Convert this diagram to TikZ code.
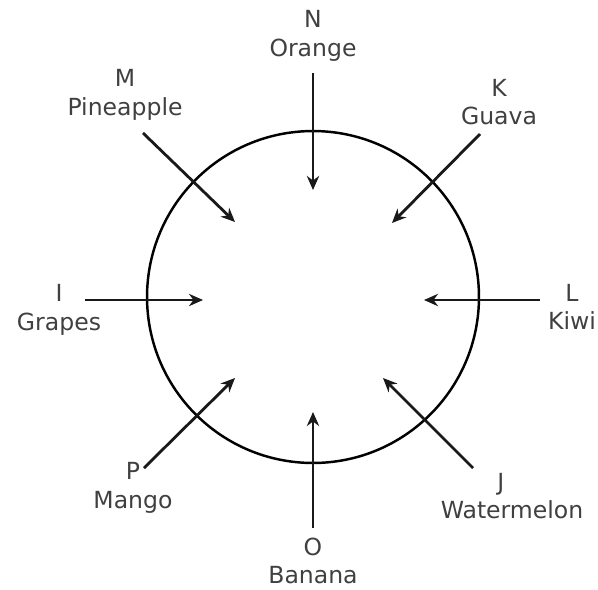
\documentclass[tikz,border=0pt]{standalone}
\usepackage{fontspec}
\setmainfont{DejaVu Sans}
\usetikzlibrary{arrows.meta}

\begin{document}
\begin{tikzpicture}[
		x=0.02cm, y=-0.02cm,
		fruit/.style={align=center, inner sep=0pt, text=black!75, font=\fontsize{13.4}{16.2}\selectfont},
		arrow/.style={-{Stealth[length=8pt, width=7pt]}, line width=1.6pt, draw=black!90}
	]
	\useasboundingbox (0,0) rectangle (598,589);

	% Nodes
	\node[draw, circle, line width=1.4pt, minimum size=6.64cm, inner sep=0pt] (ring) at (313,297) {};

	\node[fruit] (orange) at (313,36) {N\\Orange};
	\node[fruit] (guava) at (499,102) {K\\Guava};
	\node[fruit] (pineapple) at (125,95) {M\\Pineapple};
	\node[fruit] (grapes) at (59,310) {I\\Grapes};
	\node[fruit] (kiwi) at (572,307) {L\\Kiwi};
	\node[fruit] (mango) at (133,488) {P\\Mango};
	\node[fruit, align=left] (watermelon) at (512,496) {\hspace{2.4em}J\\Watermelon};
	\node[fruit] (banana) at (313,561) {O\\Banana};

	% Arrow ends
	\coordinate (n0) at (313,73);   \coordinate (n1) at (313,190);
	\coordinate (k0) at (480,134);  \coordinate (k1) at (392,223);
	\coordinate (m0) at (143,133);  \coordinate (m1) at (235,222);
	\coordinate (i0) at (85,300);   \coordinate (i1) at (203,300);
	\coordinate (l0) at (540,300);  \coordinate (l1) at (424,300);
	\coordinate (p0) at (144,468);  \coordinate (p1) at (235,378);
	\coordinate (j0) at (473,468);  \coordinate (j1) at (383,378);
	\coordinate (o0) at (313,528);  \coordinate (o1) at (313,412);

	% Connections
	\draw[arrow] (n0) -- (n1);
	\draw[arrow] (k0) -- (k1);
	\draw[arrow] (m0) -- (m1);
	\draw[arrow] (i0) -- (i1);
	\draw[arrow] (l0) -- (l1);
	\draw[arrow] (p0) -- (p1);
	\draw[arrow] (j0) -- (j1);
	\draw[arrow] (o0) -- (o1);

\end{tikzpicture}
\end{document}
